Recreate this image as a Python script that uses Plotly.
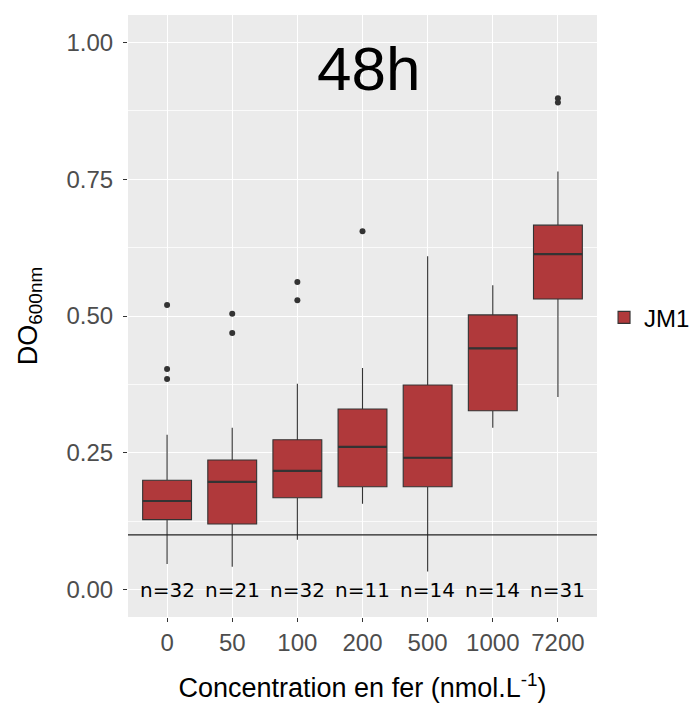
import plotly.graph_objects as go

categories = ["0", "50", "100", "200", "500", "1000", "7200"]
counts = [32, 21, 32, 11, 14, 14, 31]
q1 = [0.128, 0.120, 0.168, 0.188, 0.188, 0.327, 0.531]
median = [0.162, 0.197, 0.217, 0.261, 0.241, 0.441, 0.613]
q3 = [0.200, 0.237, 0.274, 0.330, 0.374, 0.502, 0.666]
lower = [0.047, 0.042, 0.091, 0.157, 0.033, 0.296, 0.352]
upper = [0.283, 0.296, 0.376, 0.405, 0.609, 0.556, 0.764]
outlier_cat = ["0", "0", "0", "50", "50", "100", "100", "200", "7200", "7200"]
outlier_val = [0.520, 0.403, 0.385, 0.504, 0.469, 0.562, 0.529, 0.655, 0.898, 0.890]
threshold = 0.1

pos = list(range(len(categories)))
outlier_pos = [categories.index(c) for c in outlier_cat]
box_w = 0.75

fig = go.Figure()
fig.add_trace(go.Box(
    x=pos, q1=q1, median=median, q3=q3,
    lowerfence=lower, upperfence=upper,
    name="JM1", fillcolor="#B0393B",
    line=dict(color="#333333", width=1.1),
    whiskerwidth=0, width=box_w, boxpoints=False, showlegend=True,
))
fig.add_trace(go.Scatter(
    x=outlier_pos, y=outlier_val, mode="markers",
    marker=dict(color="#333333", size=6), showlegend=False, hoverinfo="y",
))

for i, m in zip(pos, median):
    fig.add_shape(type="line", xref="x", yref="y", x0=i - box_w / 2, x1=i + box_w / 2,
                  y0=m, y1=m, line=dict(color="#333333", width=2.2))

fig.add_shape(type="line", xref="paper", x0=0, x1=1, yref="y", y0=threshold, y1=threshold,
              line=dict(color="#222222", width=1.3))

for i, n in zip(pos, counts):
    fig.add_annotation(x=i, y=0, xref="x", yref="y", text=f"n={n}", showarrow=False,
                       font=dict(family="DejaVu Sans", size=20, color="black"))

fig.add_annotation(x=0.5, y=0.953, xref="paper", yref="y", text="48h", showarrow=False,
                   font=dict(family="Liberation Sans", size=62, color="black"),
                   yanchor="middle", xshift=6)

fig.update_layout(
    width=682, height=695,
    margin=dict(l=120, r=93, t=7, b=86, autoexpand=False),
    paper_bgcolor="white", plot_bgcolor="#EBEBEB",
    font=dict(family="Liberation Sans", color="black"),
    legend=dict(x=1.015, y=0.497, xanchor="left", yanchor="middle",
                font=dict(size=24, color="black"), bgcolor="rgba(0,0,0,0)"),
    xaxis=dict(
        range=[-0.6, 6.6], tickvals=pos, ticktext=categories,
        showgrid=True, gridcolor="white", gridwidth=1.2,
        ticks="outside", ticklen=4, tickcolor="#333333",
        tickfont=dict(size=24, color="#4D4D4D"), zeroline=False,
        title=dict(text="Concentration en fer (nmol.L<sup>-1</sup>)",
                   font=dict(size=27, color="black"), standoff=32),
    ),
    yaxis=dict(
        range=[-0.05, 1.05], tickvals=[0, 0.25, 0.5, 0.75, 1.0],
        ticktext=["0.00", "0.25", "0.50", "0.75", "1.00"],
        showgrid=True, gridcolor="white", gridwidth=1.2, zeroline=False,
        minor=dict(tickvals=[0.125, 0.375, 0.625, 0.875], showgrid=True,
                   gridcolor="#FAFAFA", gridwidth=0.7),
        ticks="outside", ticklen=4, tickcolor="#333333", ticklabelstandoff=5,
        tickfont=dict(size=24, color="#4D4D4D"),
        title=dict(text="DO<sub>600nm</sub>", font=dict(size=27, color="black"), standoff=21),
    ),
)

fig.write_html("out.html")
